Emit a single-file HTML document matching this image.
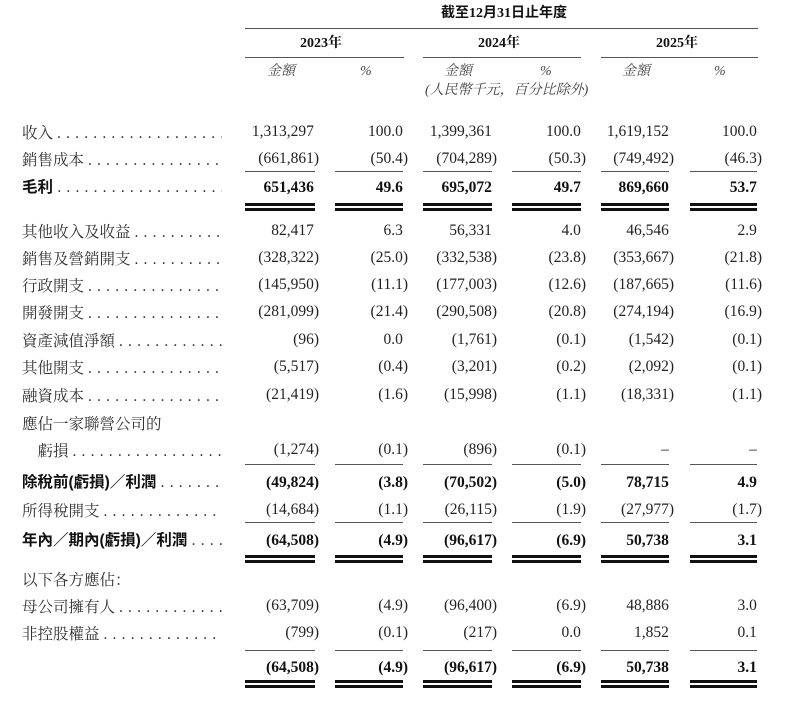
<!DOCTYPE html>
<html><head><meta charset="utf-8"><style>
body{margin:0;background:#fff;width:800px;height:704px;position:relative;overflow:hidden;color:#222;font-family:"Liberation Serif","Noto Serif CJK SC",serif;}
.t{position:absolute;white-space:nowrap;font-size:15.5px;line-height:18px;}
.n{text-align:right;}
.b{font-weight:bold;color:#111;}
.lab{position:absolute;left:22px;width:200px;overflow:hidden;white-space:nowrap;font-size:15.5px;line-height:18px;font-family:"Noto Serif CJK SC","Liberation Serif",serif;color:#333;}
.lab.bs{font-family:"Liberation Sans","Noto Sans CJK SC",sans-serif;font-weight:bold;color:#111;}
.dots{font-family:"Liberation Serif",serif;font-weight:normal;letter-spacing:5.2px;color:#333;}
.r{position:absolute;height:1px;background:#555;}
.d{position:absolute;height:3px;background:#111;}
.h{visibility:hidden}
.it{font-style:italic;color:#444;}
</style></head><body>
<div class="t b" style="left:441px;top:5px;font-family:'Liberation Serif','Noto Sans CJK SC',serif;font-size:14px">截至12月31日止年度</div>
<div class="r" style="left:245px;width:513px;top:28px"></div>
<div class="t b" style="left:300px;top:35px;font-size:14px">2023年</div>
<div class="t b" style="left:478px;top:35px;font-size:14px">2024年</div>
<div class="t b" style="left:656px;top:35px;font-size:14px">2025年</div>
<div class="r" style="left:245px;width:159px;top:57px"></div>
<div class="r" style="left:423px;width:158px;top:57px"></div>
<div class="r" style="left:601px;width:157px;top:57px"></div>
<div class="t it" style="left:267px;top:63px;font-size:14px">金額</div>
<div class="t it" style="left:360px;top:63px;font-size:14px">%</div>
<div class="t it" style="left:444px;top:63px;font-size:14px">金額</div>
<div class="t it" style="left:540px;top:63px;font-size:14px">%</div>
<div class="t it" style="left:622px;top:63px;font-size:14px">金額</div>
<div class="t it" style="left:714px;top:63px;font-size:14px">%</div>
<div class="t it" style="left:425px;top:82px;font-size:14px">(人民幣千元，百分比除外)</div>
<div id="rows"></div>
<script>
var R=[319,408,497,586,674,762];
var rows=[
[123,"收入",0,"1,313,297","100.0","1,399,361","100.0","1,619,152","100.0"],
[150,"銷售成本",0,"(661,861)","(50.4)","(704,289)","(50.3)","(749,492)","(46.3)"],
[179,"毛利",1,"651,436","49.6","695,072","49.7","869,660","53.7"],
[222,"其他收入及收益",0,"82,417","6.3","56,331","4.0","46,546","2.9"],
[249,"銷售及營銷開支",0,"(328,322)","(25.0)","(332,538)","(23.8)","(353,667)","(21.8)"],
[276,"行政開支",0,"(145,950)","(11.1)","(177,003)","(12.6)","(187,665)","(11.6)"],
[303,"開發開支",0,"(281,099)","(21.4)","(290,508)","(20.8)","(274,194)","(16.9)"],
[331,"資產減值淨額",0,"(96)","0.0","(1,761)","(0.1)","(1,542)","(0.1)"],
[358,"其他開支",0,"(5,517)","(0.4)","(3,201)","(0.2)","(2,092)","(0.1)"],
[386,"融資成本",0,"(21,419)","(1.6)","(15,998)","(1.1)","(18,331)","(1.1)"],
[441,"　虧損",0,"(1,274)","(0.1)","(896)","(0.1)","–","–"],
[474,"除稅前(虧損)／利潤",1,"(49,824)","(3.8)","(70,502)","(5.0)","78,715","4.9"],
[501,"所得稅開支",0,"(14,684)","(1.1)","(26,115)","(1.9)","(27,977)","(1.7)"],
[532,"年內／期內(虧損)／利潤",1,"(64,508)","(4.9)","(96,617)","(6.9)","50,738","3.1"],
[597,"母公司擁有人",0,"(63,709)","(4.9)","(96,400)","(6.9)","48,886","3.0"],
[624,"非控股權益",0,"(799)","(0.1)","(217)","0.0","1,852","0.1"],
[659,"",1,"(64,508)","(4.9)","(96,617)","(6.9)","50,738","3.1"]];
var h="";
rows.forEach(function(r){
 if(r[1]) h+='<div class="lab'+(r[2]?' bs':'')+'" style="top:'+r[0]+'px">'+r[1]+' <span class="dots">..................................</span></div>';
 for(var i=0;i<6;i++){var v=r[3+i];var p=v.charAt(v.length-1)==")";
 h+='<div class="t n'+(r[2]?' b':'')+'" style="left:'+(R[i]-120)+'px;width:120px;top:'+r[0]+'px">'+v+(p?'':'<span class="h">)</span>')+'</div>';}
});
h+='<div class="lab" style="top:414px">應佔一家聯營公司的</div>';
h+='<div class="lab" style="top:570px">以下各方應佔：</div>';
var L=[[245,70],[335,68],[423,69],[512,69],[601,68],[690,67]];
function rule(y){L.forEach(function(c){h+='<div class="r" style="left:'+c[0]+'px;width:'+c[1]+'px;top:'+y+'px"></div>';});}
function dbl(y){L.forEach(function(c){h+='<div class="d" style="left:'+c[0]+'px;width:'+c[1]+'px;top:'+y+'px"></div><div class="d" style="left:'+c[0]+'px;width:'+c[1]+'px;top:'+(y+5)+'px"></div>';});}
rule(171);dbl(203);rule(464);rule(522);dbl(555);rule(650);dbl(680);
document.getElementById("rows").innerHTML=h;
</script>
</body></html>
